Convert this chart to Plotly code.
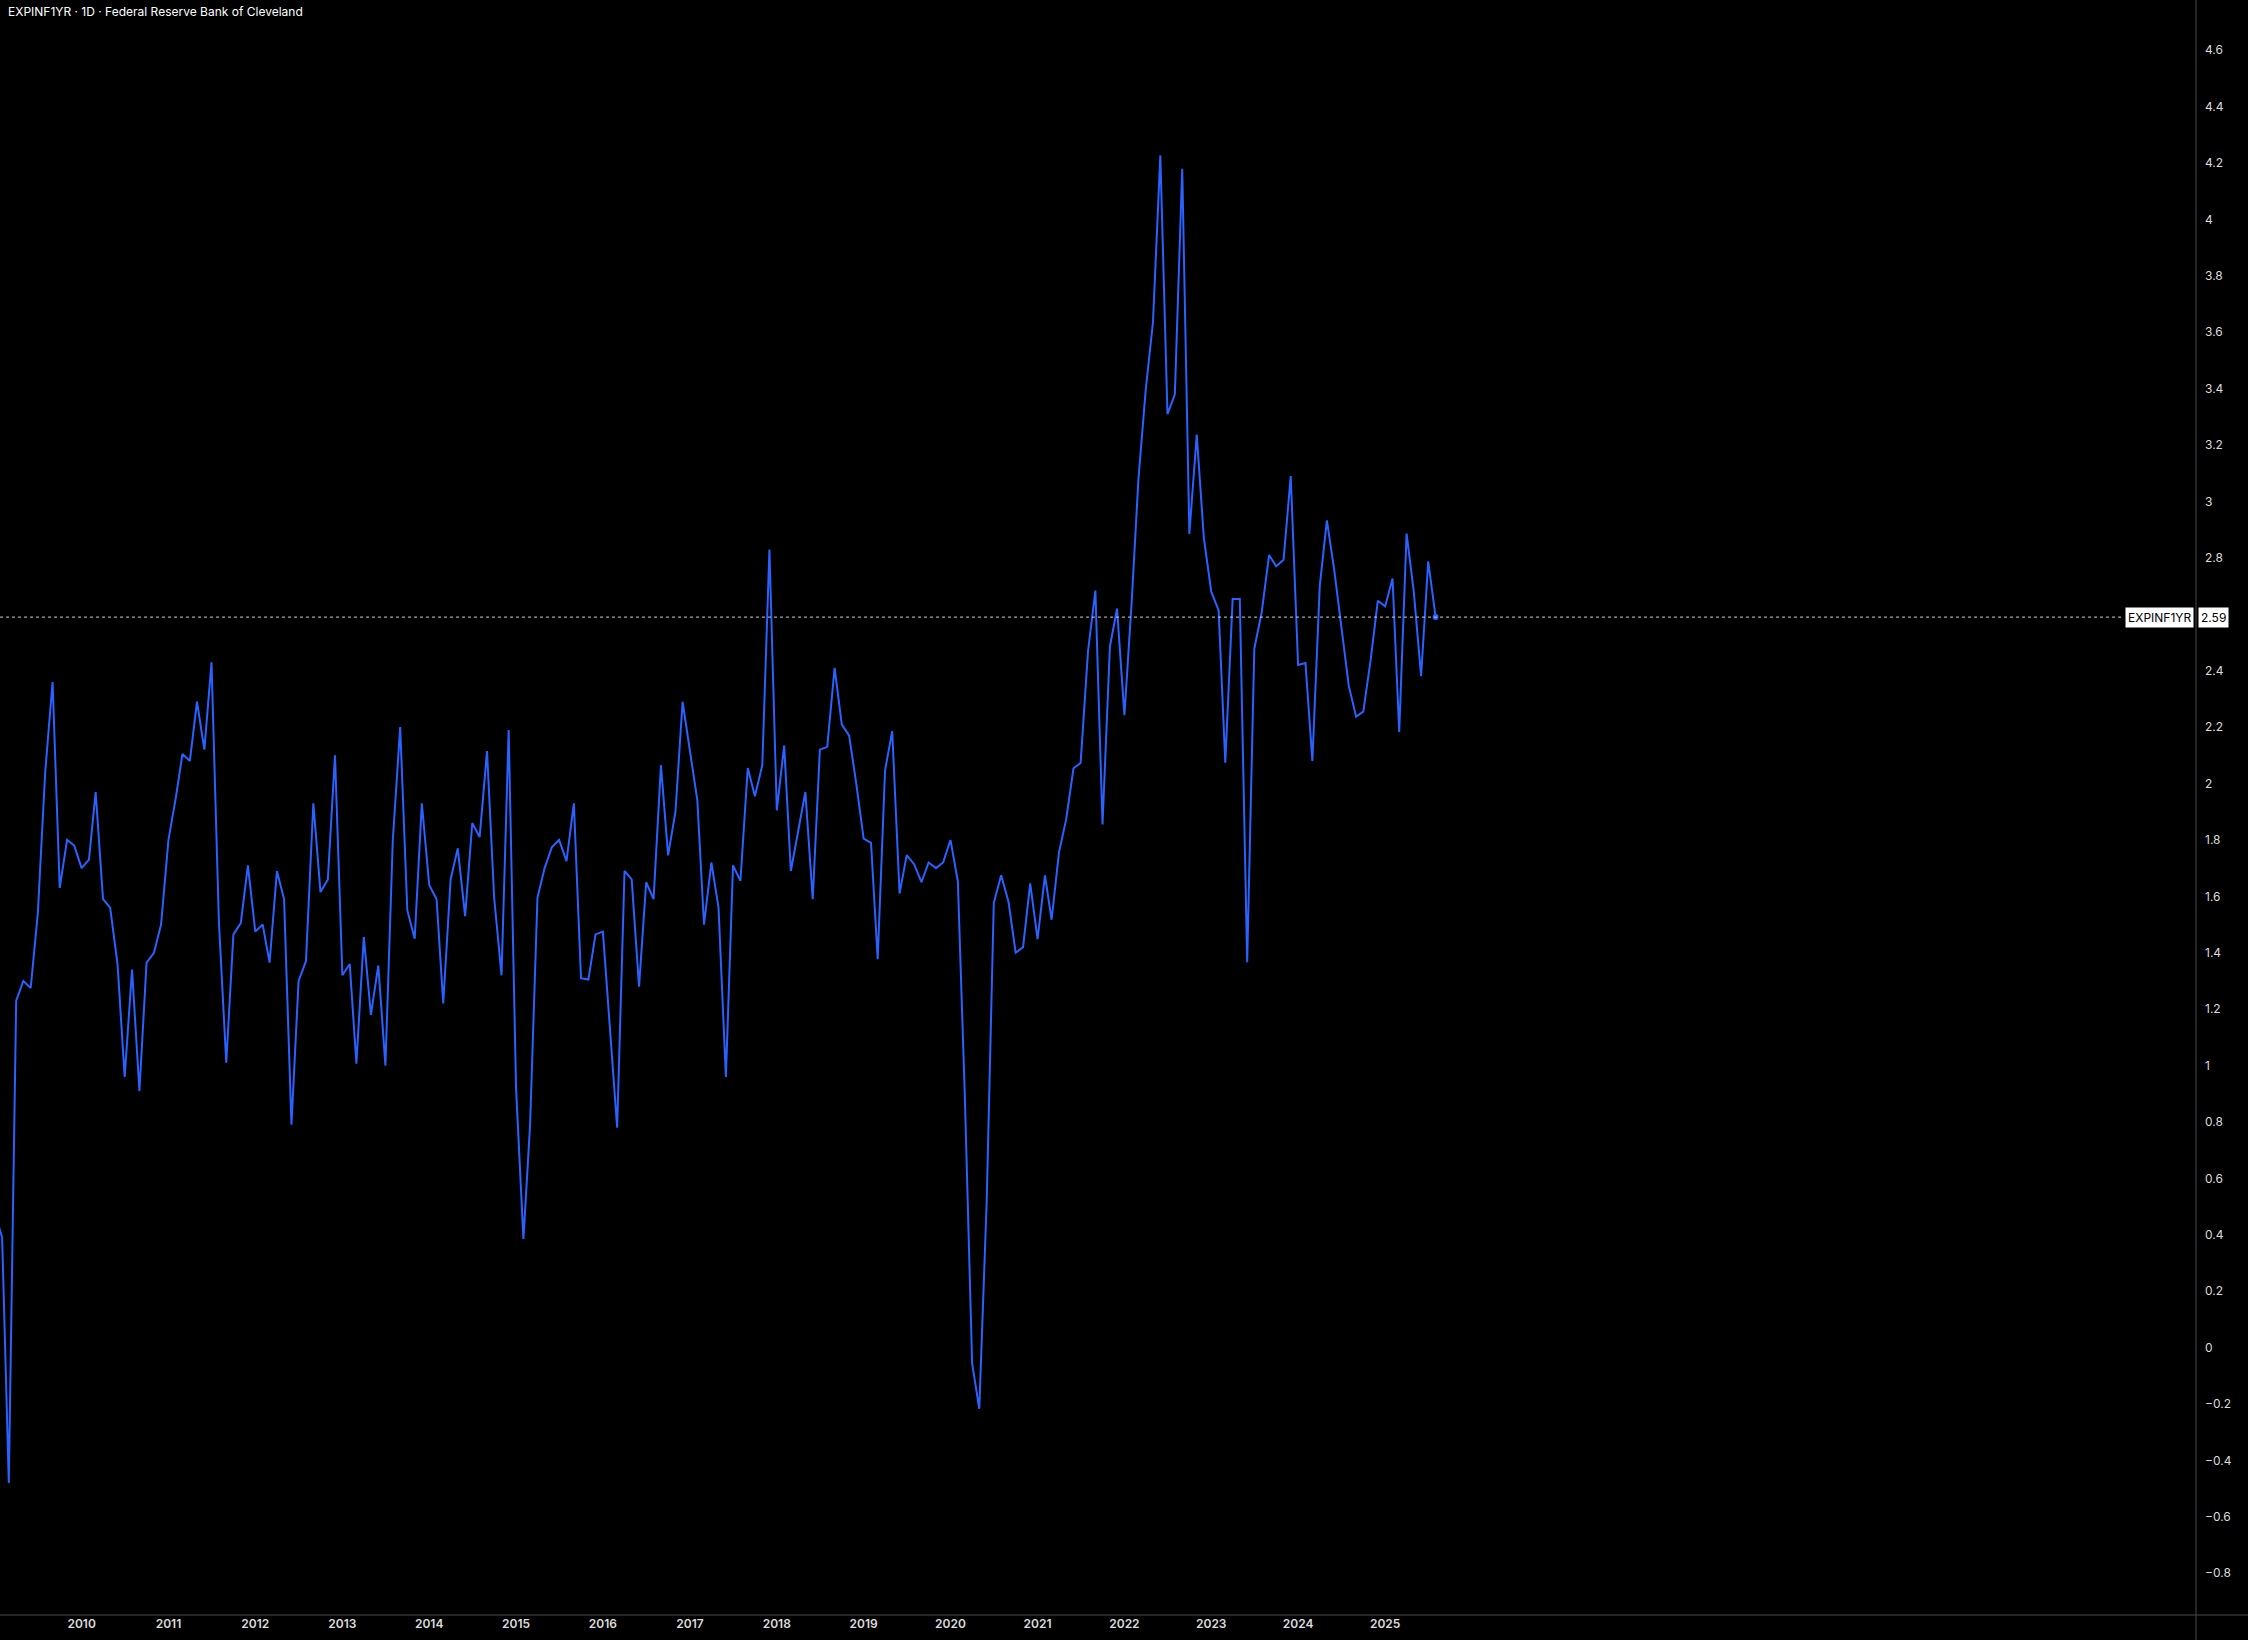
import pandas as pd
import plotly.graph_objects as go

# ---- data (monthly) ----
start_month = "2009-01-01"
values_2009 = [0.48, 0.39, -0.48, 1.23, 1.30, 1.275, 1.54, 2.04, 2.36, 1.63, 1.80, 1.78]
values_2010 = [1.70, 1.73, 1.97, 1.59, 1.56, 1.36, 0.96, 1.34, 0.91, 1.365, 1.40, 1.50]
values_2011 = [1.80, 1.95, 2.105, 2.08, 2.29, 2.12, 2.43, 1.51, 1.01, 1.465, 1.505, 1.71]
values_2012 = [1.475, 1.50, 1.365, 1.69, 1.59, 0.79, 1.30, 1.37, 1.93, 1.615, 1.66, 2.10]
values_2013 = [1.32, 1.36, 1.007, 1.456, 1.18, 1.355, 1.00, 1.80, 2.20, 1.55, 1.45, 1.93]
values_2014 = [1.64, 1.59, 1.22, 1.66, 1.77, 1.53, 1.86, 1.81, 2.115, 1.595, 1.32, 2.19]
values_2015 = [0.92, 0.385, 0.79, 1.595, 1.70, 1.775, 1.80, 1.725, 1.93, 1.31, 1.305, 1.465]
values_2016 = [1.475, 1.13, 0.78, 1.69, 1.66, 1.28, 1.65, 1.59, 2.065, 1.745, 1.90, 2.29]
values_2017 = [2.12, 1.94, 1.50, 1.72, 1.56, 0.96, 1.71, 1.655, 2.055, 1.955, 2.065, 2.83]
values_2018 = [1.905, 2.135, 1.69, 1.83, 1.97, 1.59, 2.12, 2.13, 2.41, 2.21, 2.17, 2.00]
values_2019 = [1.805, 1.79, 1.377, 2.047, 2.186, 1.61, 1.746, 1.714, 1.65, 1.72, 1.70, 1.72]
values_2020 = [1.80, 1.652, 0.90, -0.056, -0.217, 0.513, 1.577, 1.675, 1.58, 1.40, 1.42, 1.646]
values_2021 = [1.448, 1.674, 1.517, 1.756, 1.872, 2.054, 2.073, 2.469, 2.684, 1.855, 2.485, 2.62]
values_2022 = [2.242, 2.65, 3.08, 3.40, 3.635, 4.227, 3.31, 3.38, 4.18, 2.885, 3.237, 2.87]
values_2023 = [2.68, 2.614, 2.074, 2.654, 2.654, 1.366, 2.478, 2.607, 2.81, 2.77, 2.793, 3.09]
values_2024 = [2.42, 2.427, 2.08, 2.70, 2.933, 2.757, 2.56, 2.346, 2.237, 2.255, 2.438, 2.648]
values_2025 = [2.628, 2.727, 2.183, 2.886, 2.682, 2.381, 2.788, 2.59]

values = (values_2009 + values_2010 + values_2011 + values_2012 + values_2013 +
          values_2014 + values_2015 + values_2016 + values_2017 + values_2018 +
          values_2019 + values_2020 + values_2021 + values_2022 + values_2023 +
          values_2024 + values_2025)
dates = pd.date_range(start_month, periods=len(values), freq="MS")

year_labels = ["2010", "2011", "2012", "2013", "2014", "2015", "2016", "2017",
               "2018", "2019", "2020", "2021", "2022", "2023", "2024", "2025"]
year_ticks = [f"{y}-01-01" for y in year_labels]

# price-scale labels (2.6 is hidden behind the last-value label in the reference)
y_tick_labels = ["−0.8", "−0.6", "−0.4", "−0.2", "0", "0.2", "0.4", "0.6", "0.8",
                 "1", "1.2", "1.4", "1.6", "1.8", "2", "2.2", "2.4", "2.8",
                 "3", "3.2", "3.4", "3.6", "3.8", "4", "4.2", "4.4", "4.6"]
y_tick_vals = [float(t.replace("−", "-")) for t in y_tick_labels]

title_text = "EXPINF1YR · 1D · Federal Reserve Bank of Cleveland"
symbol = "EXPINF1YR"
last_value = values[-1]

LINE = "#2962FF"
TXT = "#dcdcdc"
AXIS = "#4a4a4a"
FONT = "Inter, Roboto, Liberation Sans, sans-serif"

fig = go.Figure()
fig.add_trace(go.Scatter(x=dates, y=values, mode="lines",
                         line=dict(color=LINE, width=2), hoverinfo="skip",
                         showlegend=False))
fig.add_trace(go.Scatter(x=[dates[-1]], y=[last_value], mode="markers",
                         marker=dict(color=LINE, size=6), hoverinfo="skip",
                         showlegend=False))

W, H = 2248, 1640
plot_w = 2196
fig.update_layout(
    width=W, height=H,
    paper_bgcolor="black", plot_bgcolor="black",
    margin=dict(l=0, r=W - plot_w, t=0, b=25),
    font=dict(family=FONT, color=TXT, size=12),
    xaxis=dict(type="date", range=["2009-01-23", "2034-05-02"],
               tickvals=year_ticks, ticktext=year_labels,
               showgrid=False, zeroline=False, showline=False,
               ticks="", tickfont=dict(size=12, color=TXT, weight=600)),
    yaxis=dict(side="right", range=[-0.948, 4.778],
               tickvals=y_tick_vals, ticktext=y_tick_labels,
               showgrid=False, zeroline=False, showline=False, ticks="",
               ticklabelstandoff=8, tickfont=dict(size=12, color=TXT)),
    shapes=[
        dict(type="line", xref="paper", yref="paper", x0=1, x1=1, y0=-0.05, y1=1,
             line=dict(color=AXIS, width=1)),
        dict(type="line", xref="paper", yref="paper", x0=0, x1=W / plot_w, y0=0, y1=0,
             line=dict(color=AXIS, width=1)),
        dict(type="line", xref="paper", yref="y", x0=0, x1=2121 / plot_w,
             y0=last_value, y1=last_value,
             line=dict(color="#cfcfcf", width=1, dash="dot")),
    ],
    annotations=[
        dict(text=title_text, xref="paper", yref="paper", x=0, y=1,
             xanchor="left", yanchor="top", xshift=6, yshift=-2, showarrow=False,
             font=dict(size=12, color="#ffffff", family=FONT)),
        dict(text=symbol, xref="paper", yref="y", x=1, y=last_value,
             xanchor="right", yanchor="middle", xshift=-2, showarrow=False,
             bgcolor="#ffffff", borderpad=2,
             font=dict(size=12, color="#000000", family=FONT)),
        dict(text=f"{last_value:.2f}", xref="paper", yref="y", x=1, y=last_value,
             xanchor="left", yanchor="middle", xshift=2, showarrow=False,
             bgcolor="#ffffff", borderpad=2,
             font=dict(size=12, color="#000000", family=FONT)),
    ],
)

fig.write_html("out.html", config={"displayModeBar": False},
               post_script="document.body.style.margin='0';"
                           "document.body.style.overflow='hidden';")
